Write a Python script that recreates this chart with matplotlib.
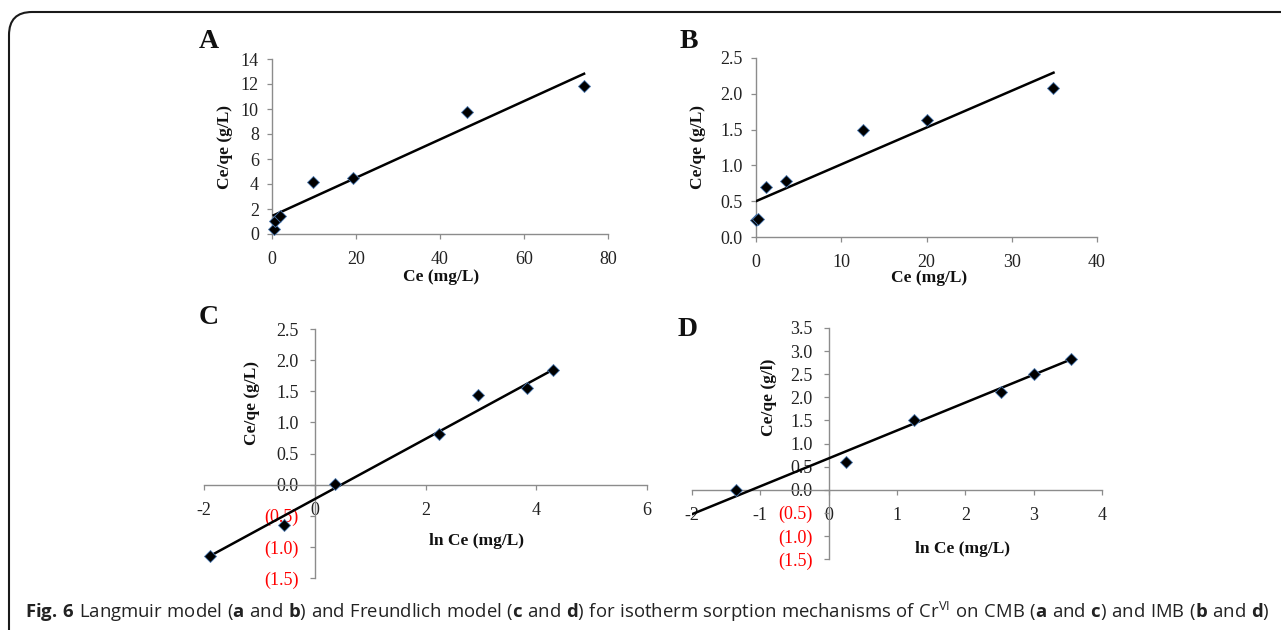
import numpy as np
import matplotlib
matplotlib.use('Agg')
import matplotlib.pyplot as plt
from matplotlib.ticker import FuncFormatter, MultipleLocator
from matplotlib.patches import FancyBboxPatch

# data
a_x = [0.5, 0.8, 1.8, 9.8, 19.2, 46.5, 74.3]
a_y = [0.43, 1.07, 1.47, 4.16, 4.48, 9.73, 11.84]
a_fit_x = [0.4, 74.3]
a_fit_y = [1.5, 12.82]

b_x = [0.0, 0.23, 1.2, 3.5, 12.5, 20.0, 34.8]
b_y = [0.233, 0.256, 0.70, 0.78, 1.50, 1.64, 2.08]
b_fit_x = [0.0, 34.9]
b_fit_y = [0.50, 2.295]

c_x = [-1.90, -0.56, 0.37, 2.25, 2.95, 3.83, 4.31]
c_y = [-1.148, -0.644, 0.01, 0.815, 1.44, 1.556, 1.835]
c_fit_x = [-1.9, 4.31]
c_fit_y = [-1.15, 1.85]

d_x = [-1.36, 0.25, 1.25, 2.52, 3.0, 3.55]
d_y = [0.0, 0.61, 1.51, 2.12, 2.50, 2.82]
d_fit_x = [-2.0, 3.58]
d_fit_y = [-0.53, 2.84]

W, H = 1281, 630
fig = plt.figure(figsize=(W / 100, H / 100), dpi=100)
fig.patch.set_facecolor('white')

serif = 'Liberation Serif'
axis_gray = '#8c8c8c'


def add_ax(x0, y0, x1, y1):
    return fig.add_axes([x0 / W, 1 - y1 / H, (x1 - x0) / W, (y1 - y0) / H])


def paren_fmt(v, pos):
    if v < -1e-9:
        return '({:.1f})'.format(-v)
    return '{:.1f}'.format(abs(v))


def style(ax, xlim, ylim, xstep, ystep, yfmt, crossed):
    ax.set_xlim(*xlim)
    ax.set_ylim(*ylim)
    ax.xaxis.set_major_locator(MultipleLocator(xstep))
    ax.yaxis.set_major_locator(MultipleLocator(ystep))
    ax.yaxis.set_major_formatter(FuncFormatter(yfmt))
    ax.xaxis.set_major_formatter(FuncFormatter(lambda v, p: '{:g}'.format(v)))
    for s in ['top', 'right']:
        ax.spines[s].set_visible(False)
    for s in ['left', 'bottom']:
        ax.spines[s].set_color(axis_gray)
        ax.spines[s].set_linewidth(1.0)
    if crossed:
        ax.spines['left'].set_position(('data', 0))
        ax.spines['bottom'].set_position(('data', 0))
    ax.tick_params(axis='both', direction='out', length=3.5, width=0.9, color=axis_gray,
                   labelsize=13, labelcolor='#222222')
    ax.tick_params(axis='x', pad=9)
    ax.tick_params(axis='y', pad=6 if not crossed else 8)
    for lab in ax.get_xticklabels() + ax.get_yticklabels():
        lab.set_fontfamily(serif)
    ax.set_facecolor('none')


def draw(ax, x, y, fx, fy):
    ax.plot(fx, fy, color='black', lw=1.8, zorder=3)
    ax.plot(x, y, linestyle='none', marker='D', markersize=5.8, markerfacecolor='black',
            markeredgecolor='#4a78b0', markeredgewidth=0.6, zorder=4, clip_on=False)


lab_kw = dict(fontfamily=serif, fontweight='bold', fontsize=12.5, color='#111111')

# panel A
axA = add_ax(272, 59, 608, 234)
style(axA, (0, 80), (0, 14), 20, 2, lambda v, p: '{:g}'.format(v), False)
draw(axA, a_x, a_y, a_fit_x, a_fit_y)

# panel B
axB = add_ax(756, 58, 1097, 237)
style(axB, (0, 40), (0, 2.5), 10, 0.5, lambda v, p: '{:.1f}'.format(v), False)
draw(axB, b_x, b_y, b_fit_x, b_fit_y)

# panel C
axC = add_ax(204, 329, 647, 578)
style(axC, (-2, 6), (-1.5, 2.5), 2, 0.5, paren_fmt, True)
draw(axC, c_x, c_y, c_fit_x, c_fit_y)

# panel D
axD = add_ax(692, 328, 1102, 559)
style(axD, (-2, 4), (-1.5, 3.5), 1, 0.5, paren_fmt, True)
draw(axD, d_x, d_y, d_fit_x, d_fit_y)

for ax in (axC, axD):
    for lab, v in zip(ax.get_yticklabels(), ax.get_yticks()):
        if v < -1e-9:
            lab.set_color('red')


def ftext(x, y, s, **kw):
    fig.text(x / W, 1 - y / H, s, **kw)


ftext(441, 277, 'Ce (mg/L)', ha='center', va='center', **lab_kw)
ftext(225, 147, 'Ce/qe (g/L)', ha='center', va='center', rotation=90, **lab_kw)
ftext(929, 278, 'Ce (mg/L)', ha='center', va='center', **lab_kw)
ftext(698, 147, 'Ce/qe (g/L)', ha='center', va='center', rotation=90, **lab_kw)
ftext(476, 541, 'ln Ce (mg/L)', ha='center', va='center', **lab_kw)
ftext(252, 403, 'Ce/qe (g/L)', ha='center', va='center', rotation=90, **lab_kw)
ftext(963, 549, 'ln Ce (mg/L)', ha='center', va='center', **lab_kw)
ftext(769, 397, 'Ce/qe (g/l)', ha='center', va='center', rotation=90, **lab_kw)

pan_kw = dict(fontfamily=serif, fontweight='bold', fontsize=20, color='#111111',
              ha='center', va='center')
ftext(209, 42, 'A', **pan_kw)
ftext(689, 42, 'B', **pan_kw)
ftext(209, 318, 'C', **pan_kw)
ftext(688, 329, 'D', **pan_kw)

# frame with rounded top-left corner (right and bottom run off the image)
frame = FancyBboxPatch((9 / W, -0.05), 1.2, 1 - 12 / H + 0.05,
                       boxstyle='round,pad=0,rounding_size=0.018',
                       transform=fig.transFigure, fill=False, edgecolor='#1a1a1a',
                       lw=1.5, clip_on=False, mutation_aspect=W / H)
fig.add_artist(frame)

# caption
plt.rcParams['mathtext.fontset'] = 'custom'
plt.rcParams['mathtext.rm'] = 'Open Sans'
plt.rcParams['mathtext.bf'] = 'Open Sans:bold'
plt.rcParams['mathtext.it'] = 'Open Sans'
cap = (r'$\mathbf{Fig.\,6}\ \mathrm{Langmuir\ model\ (}\mathbf{a}\mathrm{\ and\ }\mathbf{b}'
       r'\mathrm{)\ and\ Freundlich\ model\ (}\mathbf{c}\mathrm{\ and\ }\mathbf{d}'
       r'\mathrm{)\ for\ isotherm\ sorption\ mechanisms\ of\ Cr}^{\mathrm{VI}}'
       r'\mathrm{\ on\ CMB\ (}\mathbf{a}\mathrm{\ and\ }\mathbf{c}\mathrm{)\ and\ IMB\ (}'
       r'\mathbf{b}\mathrm{\ and\ }\mathbf{d}\mathrm{)}$')
ftext(25, 612, cap, ha='left', va='center', fontsize=13.3, color='#222222')

fig.savefig('out.png', dpi=100)
